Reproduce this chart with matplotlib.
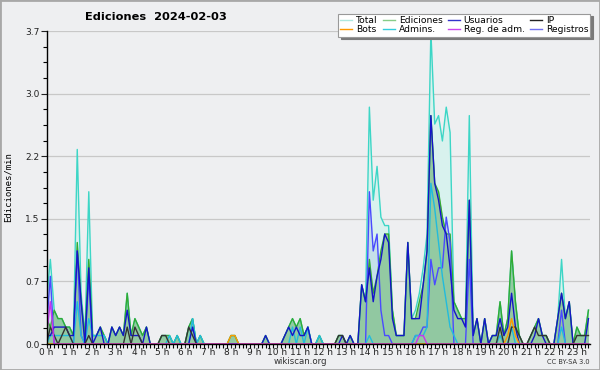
import numpy as np
import matplotlib.pyplot as plt
from matplotlib.ticker import FixedLocator, MultipleLocator, AutoMinorLocator
from matplotlib.lines import Line2D
from matplotlib.patches import Rectangle

# edits per minute, 10-minute bins from 0:00 (two hours per line)
total = [0.5, 1.0, 0.4, 0.3, 0.3, 0.2,  0.2, 0.1, 2.3, 0.6, 0.1, 1.8,
         0.1, 0.1, 0.2, 0.1, 0.0, 0.2,  0.1, 0.2, 0.1, 0.6, 0.1, 0.3,
         0.2, 0.1, 0.2, 0.0, 0.0, 0.0,  0.1, 0.1, 0.1, 0.0, 0.1, 0.0,
         0.0, 0.2, 0.3, 0.0, 0.1, 0.0,  0.0, 0.0, 0.0, 0.0, 0.0, 0.0,
         0.1, 0.1, 0.0, 0.0, 0.0, 0.0,  0.0, 0.0, 0.0, 0.1, 0.0, 0.0,
         0.0, 0.0, 0.1, 0.2, 0.3, 0.2,  0.3, 0.1, 0.2, 0.0, 0.0, 0.1,
         0.0, 0.0, 0.0, 0.0, 0.1, 0.1,  0.0, 0.1, 0.0, 0.0, 0.7, 0.5,
         2.8, 1.7, 2.1, 1.5, 1.4, 1.4,  0.4, 0.1, 0.1, 0.1, 1.2, 0.3,
         0.4, 0.6, 0.9, 1.3, 3.7, 2.6,  2.7, 2.4, 2.8, 2.5, 0.5, 0.4,
         0.3, 0.3, 2.7, 0.1, 0.3, 0.0,  0.3, 0.0, 0.1, 0.1, 0.5, 0.1,
         0.3, 1.1, 0.5, 0.1, 0.0, 0.0,  0.1, 0.2, 0.3, 0.1, 0.1, 0.0,
         0.0, 0.3, 1.0, 0.3, 0.5, 0.0,  0.2, 0.1, 0.1, 0.4]
ediciones = [0.3, 0.2, 0.4, 0.3, 0.3, 0.2,  0.2, 0.1, 1.2, 0.5, 0.1, 1.0,
             0.1, 0.1, 0.2, 0.1, 0.0, 0.2,  0.1, 0.2, 0.1, 0.6, 0.1, 0.3,
             0.2, 0.1, 0.2, 0.0, 0.0, 0.0,  0.1, 0.1, 0.1, 0.0, 0.1, 0.0,
             0.0, 0.2, 0.3, 0.0, 0.1, 0.0,  0.0, 0.0, 0.0, 0.0, 0.0, 0.0,
             0.1, 0.1, 0.0, 0.0, 0.0, 0.0,  0.0, 0.0, 0.0, 0.1, 0.0, 0.0,
             0.0, 0.0, 0.1, 0.2, 0.3, 0.2,  0.3, 0.1, 0.2, 0.0, 0.0, 0.1,
             0.0, 0.0, 0.0, 0.0, 0.1, 0.1,  0.0, 0.1, 0.0, 0.0, 0.7, 0.5,
             1.0, 0.6, 0.8, 1.1, 1.3, 1.3,  0.4, 0.1, 0.1, 0.1, 1.2, 0.3,
             0.3, 0.5, 0.7, 1.1, 2.7, 1.9,  1.8, 1.5, 1.3, 1.3, 0.5, 0.4,
             0.3, 0.3, 1.7, 0.1, 0.3, 0.0,  0.3, 0.0, 0.1, 0.1, 0.5, 0.1,
             0.3, 1.1, 0.5, 0.1, 0.0, 0.0,  0.1, 0.2, 0.3, 0.1, 0.1, 0.0,
             0.0, 0.3, 0.6, 0.3, 0.5, 0.0,  0.2, 0.1, 0.1, 0.4]
usuarios = [0.1, 0.1, 0.2, 0.2, 0.2, 0.2,  0.1, 0.1, 1.1, 0.5, 0.0, 0.9,
            0.0, 0.1, 0.2, 0.0, 0.0, 0.2,  0.1, 0.2, 0.1, 0.4, 0.1, 0.1,
            0.1, 0.0, 0.2, 0.0, 0.0, 0.0,  0.0, 0.0, 0.0, 0.0, 0.0, 0.0,
            0.0, 0.0, 0.2, 0.0, 0.0, 0.0,  0.0, 0.0, 0.0, 0.0, 0.0, 0.0,
            0.0, 0.0, 0.0, 0.0, 0.0, 0.0,  0.0, 0.0, 0.0, 0.1, 0.0, 0.0,
            0.0, 0.0, 0.1, 0.2, 0.1, 0.2,  0.1, 0.1, 0.2, 0.0, 0.0, 0.0,
            0.0, 0.0, 0.0, 0.0, 0.0, 0.1,  0.0, 0.1, 0.0, 0.0, 0.7, 0.5,
            0.9, 0.5, 0.8, 1.0, 1.3, 1.2,  0.3, 0.1, 0.1, 0.1, 1.2, 0.3,
            0.3, 0.3, 0.7, 1.1, 2.7, 1.9,  1.7, 1.4, 1.3, 0.9, 0.4, 0.3,
            0.3, 0.2, 1.7, 0.1, 0.3, 0.0,  0.3, 0.0, 0.1, 0.1, 0.3, 0.1,
            0.2, 0.6, 0.2, 0.0, 0.0, 0.0,  0.0, 0.1, 0.3, 0.1, 0.0, 0.0,
            0.0, 0.3, 0.6, 0.3, 0.5, 0.0,  0.0, 0.0, 0.0, 0.3]
ip = [0.0, 0.2, 0.1, 0.0, 0.1, 0.2,  0.1, 0.0, 0.0, 0.0, 0.0, 0.1,
      0.0, 0.0, 0.0, 0.0, 0.0, 0.0,  0.0, 0.0, 0.0, 0.2, 0.0, 0.2,
      0.1, 0.0, 0.0, 0.0, 0.0, 0.0,  0.1, 0.1, 0.0, 0.0, 0.0, 0.0,
      0.0, 0.2, 0.1, 0.0, 0.0, 0.0,  0.0, 0.0, 0.0, 0.0, 0.0, 0.0,
      0.0, 0.0, 0.0, 0.0, 0.0, 0.0,  0.0, 0.0, 0.0, 0.0, 0.0, 0.0,
      0.0, 0.0, 0.0, 0.0, 0.0, 0.0,  0.0, 0.0, 0.0, 0.0, 0.0, 0.0,
      0.0, 0.0, 0.0, 0.0, 0.1, 0.1,  0.0, 0.0, 0.0, 0.0, 0.0, 0.0,
      0.0, 0.0, 0.0, 0.0, 0.0, 0.0,  0.0, 0.0, 0.0, 0.0, 0.0, 0.0,
      0.0, 0.0, 0.0, 0.0, 0.0, 0.0,  0.0, 0.0, 0.0, 0.0, 0.0, 0.0,
      0.0, 0.0, 0.0, 0.0, 0.0, 0.0,  0.0, 0.0, 0.0, 0.0, 0.2, 0.0,
      0.0, 0.2, 0.2, 0.1, 0.0, 0.0,  0.1, 0.2, 0.1, 0.1, 0.1, 0.0,
      0.0, 0.0, 0.0, 0.0, 0.0, 0.0,  0.1, 0.1, 0.1, 0.1]
admins = [0.0, 0.1, 0.1, 0.1, 0.1, 0.1,  0.1, 0.0, 0.5, 0.1, 0.0, 0.3,
          0.1, 0.1, 0.1, 0.1, 0.0, 0.0,  0.0, 0.0, 0.0, 0.0, 0.0, 0.0,
          0.0, 0.0, 0.0, 0.0, 0.0, 0.0,  0.0, 0.0, 0.1, 0.0, 0.1, 0.0,
          0.0, 0.0, 0.3, 0.0, 0.1, 0.0,  0.0, 0.0, 0.0, 0.0, 0.0, 0.0,
          0.0, 0.0, 0.0, 0.0, 0.0, 0.0,  0.0, 0.0, 0.0, 0.0, 0.0, 0.0,
          0.0, 0.0, 0.0, 0.0, 0.2, 0.0,  0.2, 0.0, 0.2, 0.0, 0.0, 0.1,
          0.0, 0.0, 0.0, 0.0, 0.0, 0.0,  0.0, 0.0, 0.0, 0.0, 0.0, 0.0,
          0.1, 0.0, 0.0, 0.0, 0.0, 0.0,  0.0, 0.0, 0.0, 0.0, 0.0, 0.0,
          0.1, 0.1, 0.1, 0.2, 1.9, 1.6,  1.2, 0.8, 0.5, 0.2, 0.1, 0.0,
          0.0, 0.0, 0.0, 0.0, 0.0, 0.0,  0.0, 0.0, 0.0, 0.0, 0.1, 0.0,
          0.0, 0.2, 0.0, 0.0, 0.0, 0.0,  0.0, 0.0, 0.0, 0.0, 0.0, 0.0,
          0.0, 0.0, 0.2, 0.0, 0.0, 0.0,  0.0, 0.0, 0.0, 0.0]
registros = [0.2, 0.8, 0.0, 0.0, 0.0, 0.0,  0.0, 0.0, 1.1, 0.1, 0.0, 0.8,
             0.0, 0.0, 0.0, 0.0, 0.0, 0.0,  0.0, 0.0, 0.0, 0.0, 0.0, 0.0,
             0.0, 0.0, 0.0, 0.0, 0.0, 0.0,  0.0, 0.0, 0.0, 0.0, 0.0, 0.0,
             0.0, 0.0, 0.0, 0.0, 0.0, 0.0,  0.0, 0.0, 0.0, 0.0, 0.0, 0.0,
             0.0, 0.0, 0.0, 0.0, 0.0, 0.0,  0.0, 0.0, 0.0, 0.0, 0.0, 0.0,
             0.0, 0.0, 0.0, 0.0, 0.0, 0.0,  0.0, 0.0, 0.0, 0.0, 0.0, 0.0,
             0.0, 0.0, 0.0, 0.0, 0.0, 0.0,  0.0, 0.0, 0.0, 0.0, 0.0, 0.0,
             1.8, 1.1, 1.3, 0.4, 0.1, 0.1,  0.0, 0.0, 0.0, 0.0, 0.0, 0.0,
             0.1, 0.1, 0.2, 0.2, 1.0, 0.7,  0.9, 0.9, 1.5, 1.2, 0.0, 0.0,
             0.0, 0.0, 1.0, 0.0, 0.0, 0.0,  0.0, 0.0, 0.0, 0.0, 0.0, 0.0,
             0.0, 0.0, 0.0, 0.0, 0.0, 0.0,  0.0, 0.0, 0.0, 0.0, 0.0, 0.0,
             0.0, 0.0, 0.4, 0.0, 0.0, 0.0,  0.0, 0.0, 0.0, 0.0]
bots = [0.0] * 48 + [0.1, 0.1] + [0.0] * 70 + [0.1, 0.3, 0.1] + [0.0] * 19
reg_adm = [0.1, 0.5] + [0.0] * 95 + [0.1, 0.1] + [0.0] * 43

hour_ticks = list(range(24))
hour_labels = ['%d h' % h for h in hour_ticks]
y_ticks = np.linspace(0, 3.7, 6)

bg = '#eeeff1'
x = np.arange(len(total)) / 6.0

fig = plt.figure(figsize=(6, 3.7), dpi=100, facecolor=bg)
ax = fig.add_axes([46.5 / 600, 26 / 370, 543.5 / 600, 313 / 370])
ax.set_facecolor(bg)

ax.fill_between(x, total, color='#d8f2ee', lw=0)
ax.fill_between(x, registros, color='#b9d3e6', alpha=0.6, lw=0)
ax.fill_between(x, ediciones, color='#8cc69a', alpha=0.9, lw=0)

lw = 1.0
ax.plot(x, total, color='#3dd6c6', lw=lw)
ax.plot(x, ediciones, color='#33aa33', lw=lw)
ax.plot(x, registros, color='#4a4aff', lw=lw)
ax.plot(x, admins, color='#22bbdd', lw=lw)
ax.plot(x, usuarios, color='#1515c8', lw=lw)
ax.plot(x, ip, color='#333333', lw=lw)
ax.plot(x, bots, color='#ff9900', lw=lw)
ax.plot(x, reg_adm, color='#cc33ee', lw=lw)

ax.set_xlim(0, 141.4 / 6)
ax.set_ylim(0, 3.7)
ax.yaxis.set_major_locator(FixedLocator(y_ticks))
ax.set_yticklabels(['%.1f' % v for v in y_ticks])
ax.yaxis.set_minor_locator(AutoMinorLocator(4))
ax.xaxis.set_major_locator(FixedLocator(hour_ticks))
ax.set_xticklabels(hour_labels)
ax.xaxis.set_minor_locator(MultipleLocator(1 / 6))
ax.grid(axis='y', color='#c8c8c8', lw=0.9)
ax.set_axisbelow(True)

for s in ['top', 'right']:
    ax.spines[s].set_visible(False)
for s in ['left', 'bottom']:
    ax.spines[s].set_color('black')
    ax.spines[s].set_linewidth(1.0)
ax.tick_params(axis='y', which='major', length=4, width=0.8, labelsize=6.5, pad=1, colors='#222222')
ax.tick_params(axis='x', which='major', length=3, width=0.8, labelsize=6.5, pad=0, colors='#222222')
ax.tick_params(axis='both', which='minor', length=3, width=0.8)

ax.set_ylabel('Ediciones/min', family='DejaVu Sans Mono', fontsize=6.5, labelpad=9)

fig.text(85 / 600, 1 - 17 / 370, 'Ediciones  2024-02-03', fontsize=8.2, fontweight='bold', va='center', ha='left')
fig.text(300 / 600, 1 - 362 / 370, 'wikiscan.org', fontsize=6.2, ha='center', va='center', color='#333333')
fig.text(590 / 600, 1 - 362 / 370, 'CC BY-SA 3.0', fontsize=4.8, ha='right', va='center', color='#333333')

handles = [Line2D([], [], color='#aee8e0', lw=1), Line2D([], [], color='#ff9900', lw=1),
           Line2D([], [], color='#88cc88', lw=1), Line2D([], [], color='#33ccdd', lw=1),
           Line2D([], [], color='#3333cc', lw=1), Line2D([], [], color='#cc44ee', lw=1),
           Line2D([], [], color='#222222', lw=1), Line2D([], [], color='#7070f0', lw=1)]
labels = ['Total', 'Bots', 'Ediciones', 'Admins.', 'Usuarios', 'Reg. de adm.', 'IP', 'Registros']
leg = fig.legend(handles, labels, loc='upper right', bbox_to_anchor=(595 / 600, 1 - 9 / 370),
                 ncol=4, fontsize=6.6, handlelength=1.3, handletextpad=0.4, columnspacing=0.6,
                 labelspacing=0.05, borderpad=0.25, fancybox=False, framealpha=1,
                 shadow={'color': '#7a7a7a', 'alpha': 1})
leg.get_frame().set_edgecolor('#999999')
leg.get_frame().set_linewidth(0.8)

fig.patches.append(Rectangle((0, 0), 1, 1, transform=fig.transFigure, fill=False,
                             edgecolor='#a8a8a8', lw=2))

fig.savefig('out.png', dpi=100, facecolor=bg)
